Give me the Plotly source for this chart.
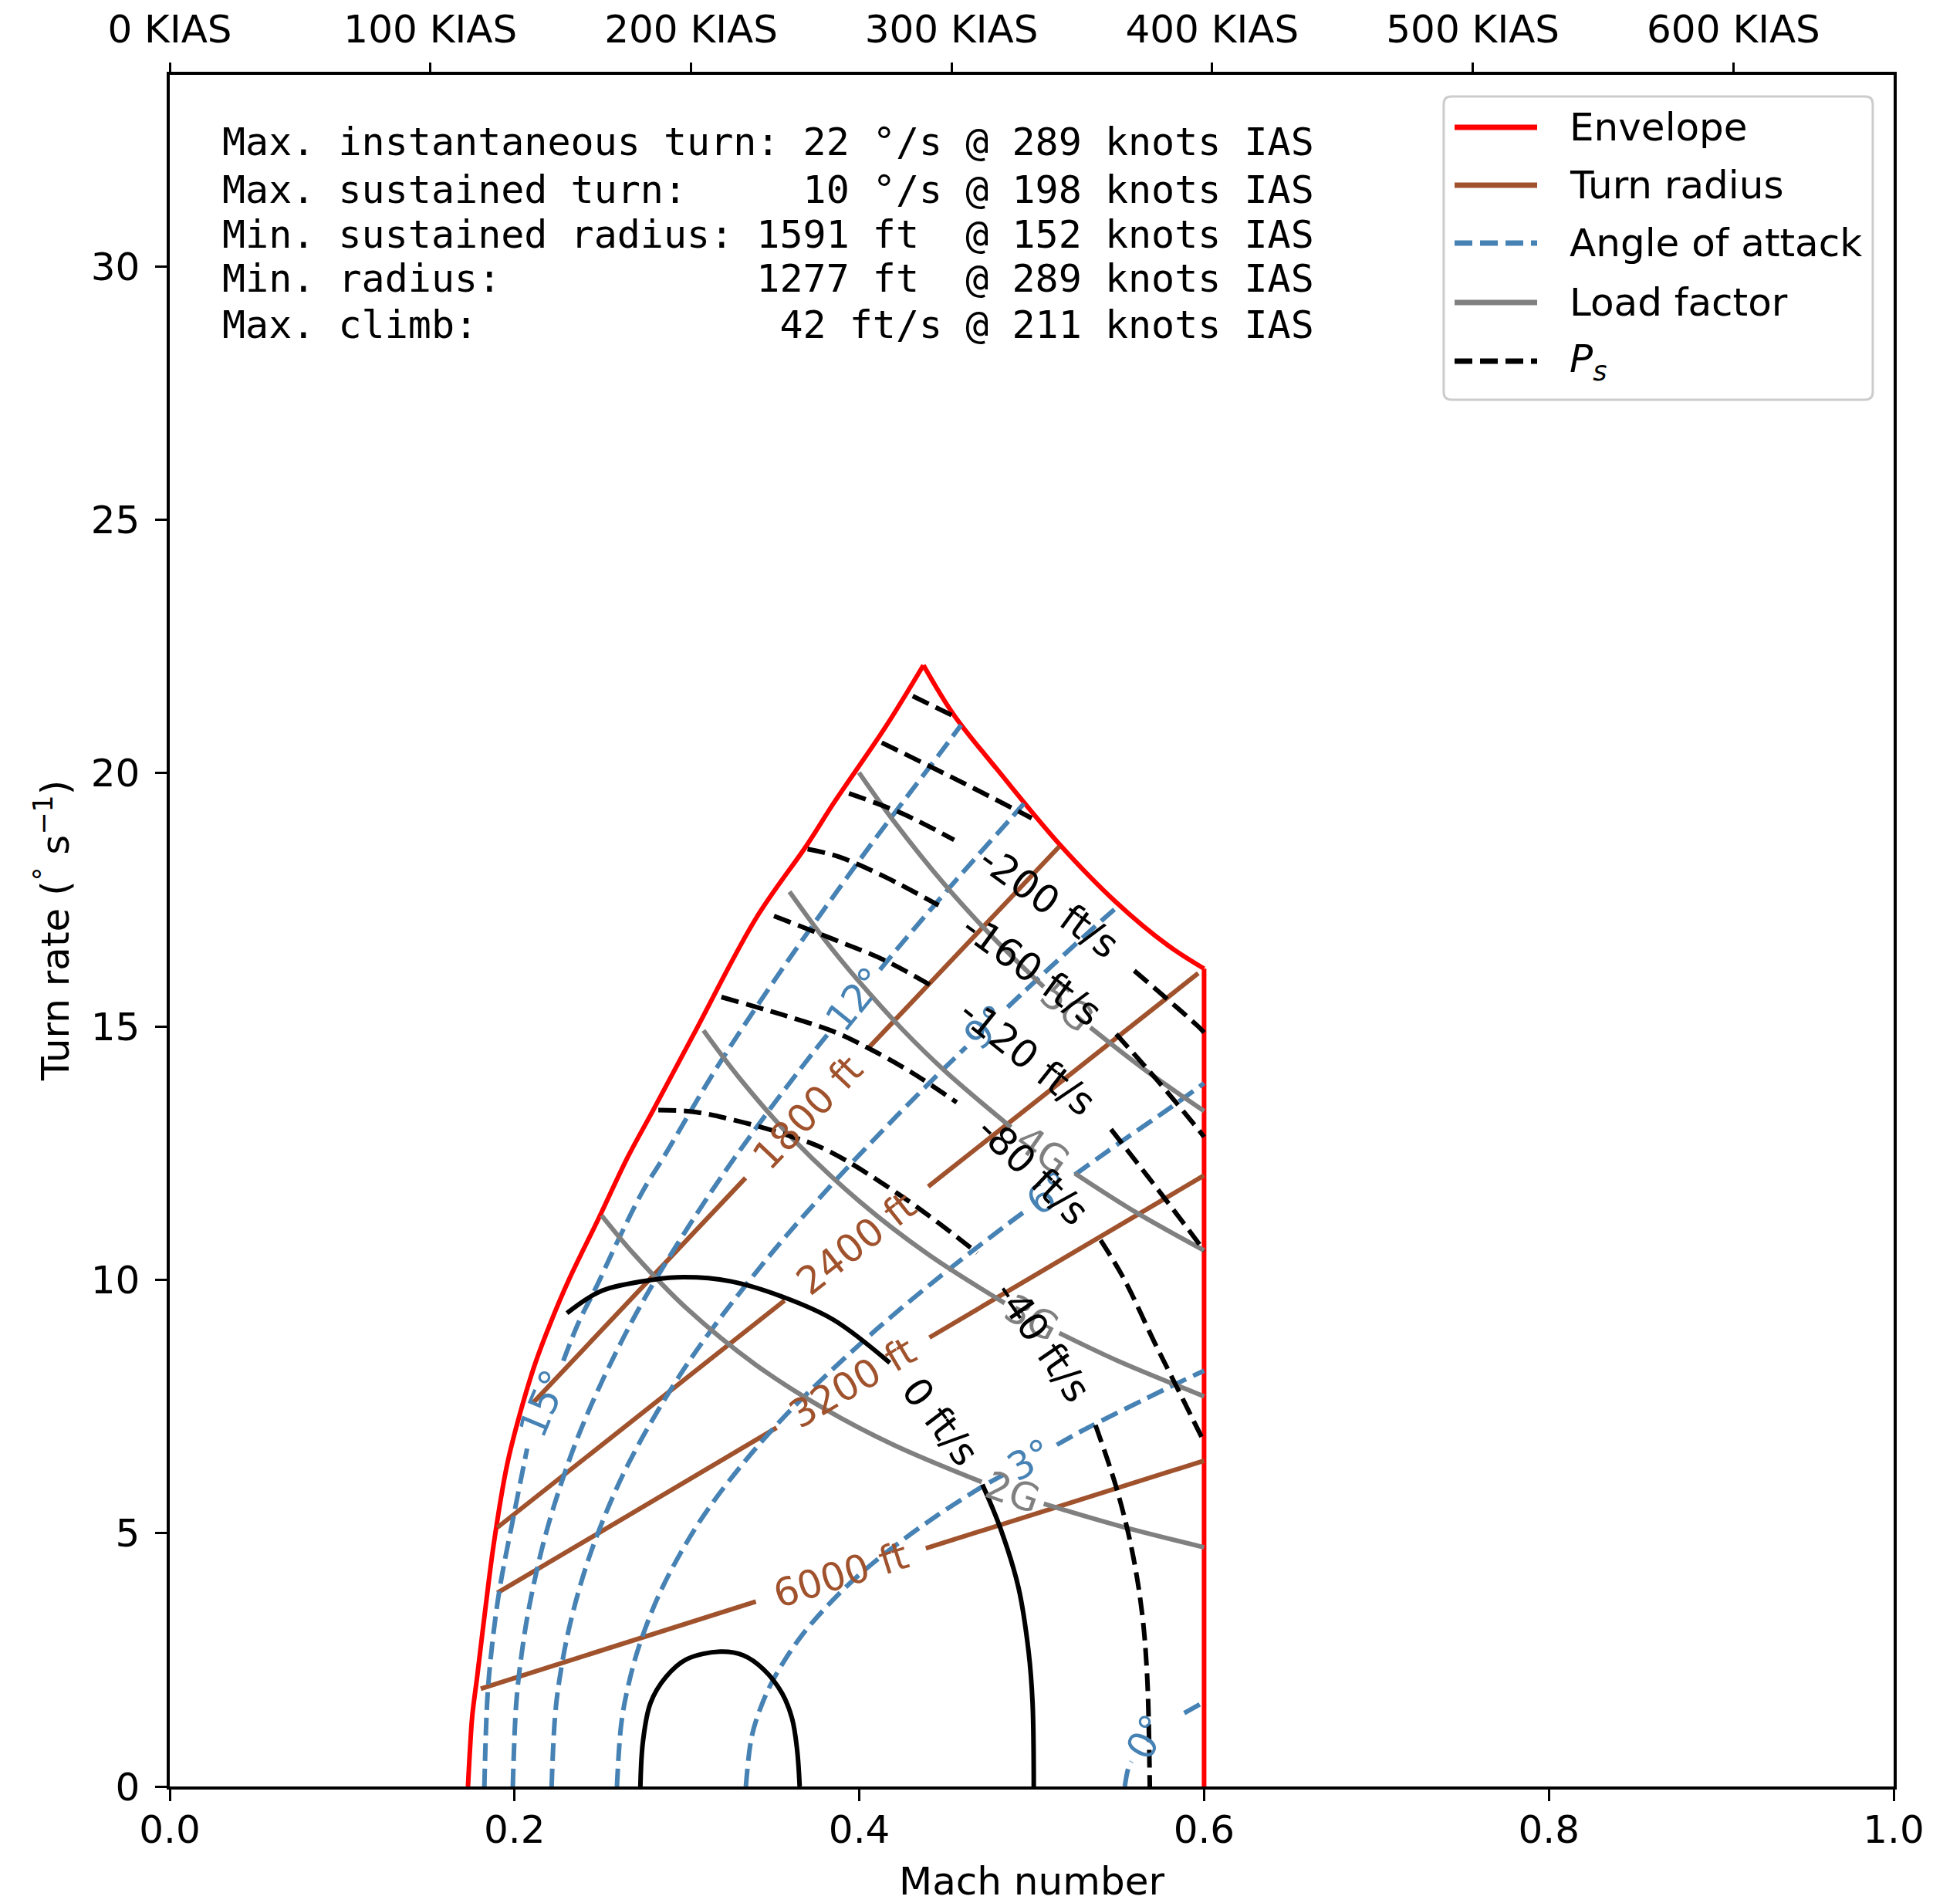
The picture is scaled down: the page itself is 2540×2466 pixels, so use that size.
import plotly.graph_objects as go

FONT = "DejaVu Sans"
MONO = "DejaVu Sans Mono"
RED, SIENNA, BLUE, GRAY, BLACK = "#ff0000", "#a0522d", "#4682b4", "#808080", "#000000"
DASH = "23px,10px"
LW = 6

# ---------------- Envelope ----------------
env_left_mach = [0.1730, 0.1741, 0.1755, 0.1783, 0.1828, 0.1880, 0.1955, 0.2030, 0.2120, 0.2210,
                 0.2318, 0.2485, 0.2655, 0.2800, 0.3040, 0.3400, 0.3700, 0.3850, 0.4150, 0.4372]
env_left_turn = [0.00, 0.70, 1.40, 2.16, 3.43, 4.80, 6.32, 7.34, 8.35, 9.16,
                 10.02, 11.19, 12.41, 13.32, 14.85, 17.13, 18.60, 19.40, 20.90, 22.13]
env_right_mach = [0.4372, 0.4550, 0.4800, 0.5160, 0.5490, 0.5790, 0.6000]
env_right_turn = [22.13, 21.14, 20.07, 18.60, 17.45, 16.60, 16.14]
env_edge_mach = [0.6000, 0.6000]
env_edge_turn = [16.14, 0.00]

# ---------------- Turn radius lines ----------------
radius_names = ["1800 ft", "2400 ft", "3200 ft", "6000 ft"]
radius_mach = [
    [0.2104, 0.3340, None, 0.4060, 0.5160],
    [0.1900, 0.3566, None, 0.4400, 0.5966],
    [0.1900, 0.3520, None, 0.4407, 0.6000],
    [0.1804, 0.3400, None, 0.4386, 0.6000],
]
radius_turn = [
    [7.56, 12.01, None, 14.60, 18.55],
    [5.11, 9.59, None, 11.84, 16.05],
    [3.82, 7.08, None, 8.86, 12.06],
    [1.93, 3.65, None, 4.70, 6.43],
]
radius_label_mach = [0.370, 0.398, 0.396, 0.389]
radius_label_turn = [13.30, 10.71, 7.97, 4.17]
radius_label_angle = [-46.6, -38.3, -30.6, -17.5]

# ---------------- Angle of attack ----------------
aoa_names = ["15°", "12°", "9°", "6°", "3°", "0°"]
aoa_mach = [
    [0.1825, 0.18432, 0.18701, 0.19141, 0.19992, 0.2073, None, 0.2283, 0.2372, 0.2476, 0.2595,
     0.2744, 0.2863, 0.31610, 0.34143, 0.36500, 0.38714, 0.40808, 0.42800, 0.44703, 0.4590],
    [0.199, 0.20098, 0.20392, 0.20871, 0.21799, 0.23122, 0.24372, 0.26325, 0.28143, 0.31465,
     0.34468, 0.37230, 0.3840, None, 0.4120, 0.42214, 0.44498, 0.46670, 0.48745, 0.4955],
    [0.2215, 0.22370, 0.22697, 0.23231, 0.24264, 0.25736, 0.27128, 0.29302, 0.31325, 0.35022,
     0.38365, 0.41439, 0.44300, 0.4620, None, 0.4860, 0.49529, 0.51946, 0.54256, 0.5500],
    [0.2594, 0.26198, 0.26581, 0.27206, 0.28416, 0.30140, 0.31770, 0.34315, 0.36685, 0.41015,
     0.44929, 0.48529, 0.4953, None, 0.5250, 0.55027, 0.58004, 0.6000],
    [0.3342, 0.33753, 0.34245, 0.35051, 0.36610, 0.38831, 0.40931, 0.44211, 0.47263, 0.4834,
     None, 0.5146, 0.52842, 0.57885, 0.6000],
    [0.5540, 0.5560, 0.5579, None, 0.5885, 0.6000],
]
aoa_turn = [
    [0.0, 1.782, 2.796, 3.909, 5.413, 6.67, None, 8.40, 9.16, 9.87, 10.74,
     11.75, 12.41, 14.12, 15.44, 16.61, 17.67, 18.65, 19.55, 20.40, 20.95],
    [0.0, 1.634, 2.565, 3.585, 4.965, 6.392, 7.468, 8.864, 9.981, 11.765,
     13.208, 14.445, 14.94, None, 16.12, 16.537, 17.450, 18.297, 19.088, 19.40],
    [0.0, 1.468, 2.304, 3.221, 4.460, 5.743, 6.709, 7.964, 8.967, 10.570,
     11.866, 12.977, 13.964, 14.595, None, 15.378, 15.677, 16.438, 17.149, 17.37],
    [0.0, 1.253, 1.967, 2.750, 3.809, 4.904, 5.729, 6.800, 7.657, 9.026,
     10.132, 11.081, 11.333, None, 12.074, 12.686, 13.387, 13.88],
    [0.0, 0.973, 1.527, 2.135, 2.956, 3.806, 4.447, 5.278, 5.943, 6.148,
     None, 6.743, 7.006, 7.864, 8.206],
    [0.0, 0.354, 0.49, None, 1.450, 1.668],
]
aoa_label_mach = [0.2168, 0.398, 0.474, 0.510, 0.499, 0.567]
aoa_label_turn = [7.56, 15.53, 14.99, 11.70, 6.445, 0.98]
aoa_label_angle = [-67.5, -51, -44, -36, -29, -62]

# ---------------- Load factor ----------------
load_names = ["2G", "3G", "4G", "5G"]
load_mach = [
    [0.2505, 0.270, 0.300, 0.340, 0.380, 0.420, 0.471, None, 0.507, 0.550, 0.600],
    [0.3096, 0.330, 0.360, 0.400, 0.440, 0.4843, None, 0.516, 0.550, 0.600],
    [0.3595, 0.380, 0.400, 0.425, 0.450, 0.488, None, 0.525, 0.560, 0.600],
    [0.3998, 0.420, 0.450, 0.480, 0.507, None, 0.534, 0.565, 0.600],
]
load_turn = [
    [11.27, 10.48, 9.43, 8.32, 7.45, 6.74, 6.01, None, 5.58, 5.15, 4.72],
    [14.92, 14.00, 12.83, 11.55, 10.50, 9.54, None, 8.95, 8.40, 7.70],
    [17.66, 16.71, 15.88, 14.94, 14.11, 13.01, None, 12.10, 11.34, 10.58],
    [20.01, 19.05, 17.78, 16.67, 15.78, None, 14.98, 14.16, 13.33],
]
load_label_mach = [0.489, 0.500, 0.5065, 0.5205]
load_label_turn = [5.80, 9.25, 12.55, 15.38]
load_label_angle = [19, 28, 35, 41]

# ---------------- Specific excess power (ft/s) ----------------
ps40_mach = [0.2730, 0.2745, 0.2789, 0.2878, 0.2998, 0.3192, 0.3326, 0.3445, 0.3550, 0.3610, 0.3639, 0.3654]
ps40_turn = [0.00, 0.89, 1.65, 2.16, 2.51, 2.66, 2.59, 2.31, 1.85, 1.34, 0.73, 0.00]
ps0_mach = [0.2304, 0.2505, 0.2805, 0.2984, 0.3253, 0.3550, 0.3850, 0.4177, None,
            0.4714, 0.4818, 0.4923, 0.4982, 0.5005, 0.5012]
ps0_turn = [9.34, 9.78, 10.00, 10.05, 9.97, 9.67, 9.21, 8.36, None,
            5.96, 5.10, 3.93, 2.66, 1.65, 0.00]
psm40_mach = [0.2834, 0.3028, 0.3252, 0.3550, 0.3811, 0.4266, 0.4684, None,
              0.5370, 0.5490, 0.5580, 0.5640, 0.5670, 0.5685]
psm40_turn = [13.35, 13.32, 13.17, 12.89, 12.56, 11.60, 10.53, None,
              7.13, 5.91, 4.69, 3.43, 2.16, 0.00]
psm80_mach = [0.3200, 0.3535, 0.3850, 0.4042, 0.4300, 0.4565, None,
              0.5400, 0.5535, 0.5713, 0.5848, 0.5937, 0.6000]
psm80_turn = [15.58, 15.25, 14.90, 14.59, 14.10, 13.50, None,
              10.78, 10.02, 8.76, 7.84, 7.23, 6.80]
psm120_mach = [0.3505, 0.3850, 0.4150, 0.4420, None, 0.5460, 0.5773, 0.5975, 0.6000]
psm120_turn = [17.18, 16.72, 16.30, 15.80, None, 12.97, 11.60, 10.69, 10.57]
psm160_mach = [0.3700, 0.3880, 0.4150, 0.4460, None, 0.5490, 0.5730, 0.5975, 0.6000]
psm160_turn = [18.50, 18.35, 17.95, 17.39, None, 14.85, 13.93, 12.93, 12.82]
psm200_mach = [0.3940, 0.4250, 0.4550, None, 0.5595, 0.5966, 0.6000]
psm200_turn = [19.60, 19.20, 18.68, None, 16.10, 15.00, 14.88]
psm240_mach = [0.4130, 0.4565, 0.5000]
psm240_turn = [20.60, 19.87, 19.11]
psm280_mach = [0.4310, 0.4550]
psm280_turn = [21.52, 21.12]

ps_label_names = ["0 ft/s", "-40 ft/s", "-80 ft/s", "-120 ft/s", "-160 ft/s", "-200 ft/s"]
ps_label_mach = [0.4468, 0.5066, 0.5005, 0.4975, 0.5000, 0.5100]
ps_label_turn = [7.20, 8.78, 12.15, 14.39, 16.12, 17.45]
ps_label_angle = [52.7, 55.5, 43.8, 38.7, 36.0, 36.0]

# ---------------- Axes text ----------------
mach_ticks = [0.0, 0.2, 0.4, 0.6, 0.8, 1.0]
mach_ticktext = ["0.0", "0.2", "0.4", "0.6", "0.8", "1.0"]
turn_ticks = [0, 5, 10, 15, 20, 25, 30]
kias_mach = [0.0, 0.1512, 0.3024, 0.4535, 0.6047, 0.7559, 0.9071]
kias_labels = ["0 KIAS", "100 KIAS", "200 KIAS", "300 KIAS", "400 KIAS", "500 KIAS", "600 KIAS"]

stats_lines = [
    "Max. instantaneous turn: 22 °/s @ 289 knots IAS",
    "Max. sustained turn:     10 °/s @ 198 knots IAS",
    "Min. sustained radius: 1591 ft  @ 152 knots IAS",
    "Min. radius:           1277 ft  @ 289 knots IAS",
    "Max. climb:             42 ft/s @ 211 knots IAS",
]

legend_names = ["Envelope", "Turn radius", "Angle of attack", "Load factor", "<i>P<sub>s</sub></i>"]
legend_colors = [RED, SIENNA, BLUE, GRAY, BLACK]
legend_dashes = ["solid", "solid", DASH, "solid", DASH]

# ---------------- Figure ----------------
fig = go.Figure()


def add_line(xs, ys, color, dash="solid", shape="spline"):
    fig.add_trace(go.Scatter(x=xs, y=ys, mode="lines", connectgaps=False,
                             line=dict(color=color, width=LW, dash=dash, shape=shape),
                             showlegend=False, hoverinfo="skip"))


add_line(env_left_mach, env_left_turn, RED)
add_line(env_right_mach, env_right_turn, RED)
add_line(env_edge_mach, env_edge_turn, RED, shape="linear")

for xs, ys in zip(radius_mach, radius_turn):
    add_line(xs, ys, SIENNA, shape="linear")
for xs, ys in zip(aoa_mach, aoa_turn):
    add_line(xs, ys, BLUE, dash=DASH)
for xs, ys in zip(load_mach, load_turn):
    add_line(xs, ys, GRAY)

add_line(ps40_mach, ps40_turn, BLACK)
add_line(ps0_mach, ps0_turn, BLACK)
for xs, ys in [(psm40_mach, psm40_turn), (psm80_mach, psm80_turn), (psm120_mach, psm120_turn),
               (psm160_mach, psm160_turn), (psm200_mach, psm200_turn),
               (psm240_mach, psm240_turn), (psm280_mach, psm280_turn)]:
    add_line(xs, ys, BLACK, dash=DASH)

# invisible trace to activate top axis
fig.add_trace(go.Scatter(x=[0], y=[0], xaxis="x2", yaxis="y", mode="markers",
                         marker=dict(opacity=0), showlegend=False, hoverinfo="skip"))

ann = []


def add_labels(names, xs, ys, angles, color):
    for t, x, y, a in zip(names, xs, ys, angles):
        ann.append(dict(x=x, y=y, xref="x", yref="y", text=t, showarrow=False, textangle=a,
                        xanchor="center", yanchor="middle",
                        font=dict(family=FONT, size=50, color=color)))


add_labels(radius_names, radius_label_mach, radius_label_turn, radius_label_angle, SIENNA)
add_labels(aoa_names, aoa_label_mach, aoa_label_turn, aoa_label_angle, BLUE)
add_labels(load_names, load_label_mach, load_label_turn, load_label_angle, GRAY)
add_labels(ps_label_names, ps_label_mach, ps_label_turn, ps_label_angle, BLACK)

# stats text block
stats_y = [0.9608, 0.9330, 0.9067, 0.8810, 0.8539]
for line, yy in zip(stats_lines, stats_y):
    ann.append(dict(x=0.0295, y=yy, xref="paper", yref="paper", text=line.replace(" ", "\u00a0"),
                    showarrow=False, xanchor="left", yanchor="middle",
                    font=dict(family=MONO, size=50, color="black")))

# axis titles
ann.append(dict(x=0.5, y=-0.0555, xref="paper", yref="paper", text="Mach number", showarrow=False,
                xanchor="center", yanchor="middle", font=dict(family=FONT, size=50, color="black")))
ann.append(dict(x=-0.068, y=0.5, xref="paper", yref="paper",
                text="Turn rate (<sup>°</sup> s<sup>−1</sup>)", showarrow=False, textangle=-90,
                xanchor="center", yanchor="middle", font=dict(family=FONT, size=50, color="black")))

# manual legend
shapes = []
x0, x1, y0, y1 = 0.7390, 0.9879, 0.8102, 0.9874
rx, ry = 0.0045, 0.0045
path = (f"M{x0+rx},{y0} L{x1-rx},{y0} Q{x1},{y0} {x1},{y0+ry} L{x1},{y1-ry} Q{x1},{y1} {x1-rx},{y1} "
        f"L{x0+rx},{y1} Q{x0},{y1} {x0},{y1-ry} L{x0},{y0+ry} Q{x0},{y0} {x0+rx},{y0} Z")
shapes.append(dict(type="path", xref="paper", yref="paper", path=path,
                   line=dict(color="#cccccc", width=3), fillcolor="rgba(255,255,255,0.8)", layer="above"))
legend_rows = [0.9693, 0.9355, 0.9017, 0.8670, 0.8327]
for name, col, dsh, yy in zip(legend_names, legend_colors, legend_dashes, legend_rows):
    shapes.append(dict(type="line", xref="paper", yref="paper", x0=0.7453, x1=0.7932, y0=yy, y1=yy,
                       line=dict(color=col, width=7, dash=dsh), layer="above"))
    ann.append(dict(x=0.8111, y=yy, xref="paper", yref="paper", text=name, showarrow=False,
                    xanchor="left", yanchor="middle", font=dict(family=FONT, size=50, color="black")))

axis_common = dict(ticks="outside", ticklen=15, tickwidth=3.3, tickcolor="black",
                   showgrid=False, zeroline=False, automargin=False,
                   tickfont=dict(family=FONT, size=50, color="black"))

fig.update_layout(
    width=2540, height=2466,
    margin=dict(l=220, r=86, t=97, b=151, pad=0, autoexpand=False),
    plot_bgcolor="white", paper_bgcolor="white",
    showlegend=False,
    xaxis=dict(range=[0, 1], tickvals=mach_ticks, ticktext=mach_ticktext, showline=True,
               linecolor="black", linewidth=3.5, mirror=True, ticklabelstandoff=-6, **axis_common),
    yaxis=dict(range=[0, 33.78], tickvals=turn_ticks, showline=True, linecolor="black",
               linewidth=3.5, mirror=True, ticklabelstandoff=10, **axis_common),
    xaxis2=dict(range=[0, 1], overlaying="x", side="top", anchor="y", tickvals=kias_mach,
                ticktext=kias_labels, showline=False, ticklabelstandoff=6, **axis_common),
    annotations=ann,
    shapes=shapes,
)

fig.write_html("out.html")
